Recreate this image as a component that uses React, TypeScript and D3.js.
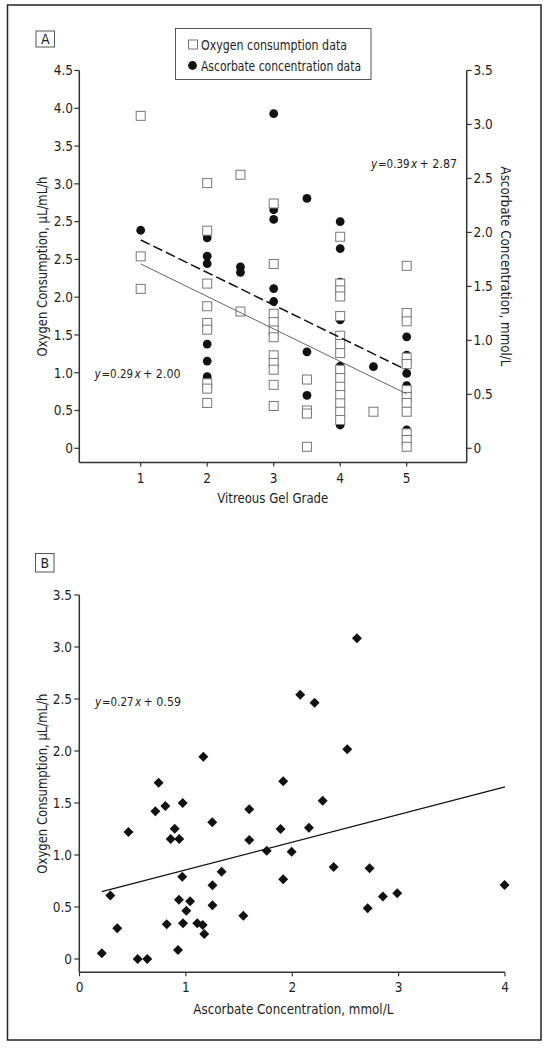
import React from "react";
import * as d3 from "d3";

// ---------- Panel A data (vitreous gel grade) ----------
// Oxygen consumption (left axis, position units of the printed scale)
const oxyGrades: number[] = [1, 2, 2.5, 3, 3.5, 4, 4.5, 5];
const oxyValues: number[][] = [
  [4.40, 2.54, 2.11],
  [3.51, 2.88, 2.18, 1.88, 1.66, 1.57, 0.86, 0.79, 0.60],
  [3.62, 1.81],
  [3.24, 2.44, 1.78, 1.67, 1.56, 1.47, 1.23, 1.13, 1.04, 0.84, 0.56],
  [0.91, 0.50, 0.46, 0.02],
  [2.80, 2.18, 2.09, 2.01, 1.75, 1.49, 1.38, 1.26, 1.04, 0.93, 0.815, 0.705, 0.595, 0.484, 0.374],
  [0.484],
  [2.415, 1.79, 1.68, 1.20, 1.115, 0.77, 0.68, 0.60, 0.484, 0.198, 0.11, 0.02],
];
// Ascorbate concentration (right axis, mmol/L)
const ascGrades: number[] = [1, 2, 2.5, 3, 3.5, 4, 4.5, 5];
const ascValues: number[][] = [
  [2.02],
  [1.95, 1.78, 1.71, 0.966, 0.808, 0.663],
  [1.68, 1.63],
  [3.10, 2.21, 2.12, 1.48, 1.36, 1.20],
  [2.315, 0.894, 0.49],
  [2.10, 1.85, 1.54, 1.19, 0.76, 0.654, 0.355, 0.216],
  [0.756],
  [1.20, 1.033, 0.864, 0.694, 0.58, 0.17],
];
// Regression line end points
const oxyFitX: number[] = [1, 5];
const oxyFitY: number[] = [2.44, 0.72]; // left axis units
const ascFitX: number[] = [1, 5];
const ascFitY: number[] = [1.93, 0.725]; // right axis units

const gradeTicks: number[] = [1, 2, 3, 4, 5];
const leftTicksA: number[] = [0, 0.5, 1, 1.5, 2, 2.5, 3, 3.5, 4, 4.5, 5];
const leftTickLabelsA: string[] = ["0", "0.5", "1.0", "1.5", "2.0", "2.5", "2.5", "3.0", "3.5", "4.0", "4.5"];
const rightTicksA: number[] = [0, 0.5, 1, 1.5, 2, 2.5, 3, 3.5];
const rightTickLabelsA: string[] = ["0", "0.5", "1.0", "1.5", "2.0", "2.5", "3.0", "3.5"];

// ---------- Panel B data ----------
const ascB: number[] = [
  0.21, 0.29, 0.355, 0.46, 0.547, 0.637, 0.713, 0.744, 0.807, 0.82, 0.857, 0.895, 0.926, 0.938,
  0.97, 0.966, 0.935, 0.973, 1.004, 1.04, 1.107, 1.158, 1.173, 1.164, 1.248, 1.25, 1.25, 1.336,
  1.54, 1.596, 1.596, 1.76, 1.915, 1.89, 1.915, 1.994, 2.075, 2.21, 2.608, 2.517, 2.286, 2.157,
  2.389, 2.727, 2.709, 2.852, 2.987, 3.996,
];
const oxyB: number[] = [
  0.055, 0.61, 0.295, 1.22, 0.0, 0.0, 1.42, 1.695, 1.47, 0.333, 1.154, 1.253, 0.087, 1.154,
  1.50, 0.79, 0.57, 0.343, 0.465, 0.555, 0.343, 0.327, 0.24, 1.945, 1.314, 0.708, 0.516, 0.84,
  0.416, 1.44, 1.144, 1.04, 1.71, 1.25, 0.766, 1.032, 2.54, 2.465, 3.084, 2.016, 1.522, 1.263,
  0.885, 0.872, 0.487, 0.6, 0.632, 0.712,
];
const fitBX: number[] = [0.21, 4.0];
const fitBY: number[] = [0.647, 1.655];
const xTicksB: number[] = [0, 1, 2, 3, 4];
const yTicksB: number[] = [0, 0.5, 1, 1.5, 2, 2.5, 3, 3.5];
const yTickLabelsB: string[] = ["0", "0.5", "1.0", "1.5", "2.0", "2.5", "3.0", "3.5"];

const FONT = "'DejaVu Sans Condensed', 'Liberation Sans', Arial, sans-serif";
const TXT = "#1e1e1e";
const AX = "#333";

function Equation({ x, y, slope, intercept }: { x: number; y: number; slope: string; intercept: string }) {
  const fit = { lengthAdjust: "spacingAndGlyphs" as const };
  const common = { y, dy: "0.36em", fontSize: 12.5, fill: TXT };
  return (
    <g>
      <text x={x} {...common} fontStyle="italic" textLength={6.2} {...fit}>y</text>
      <text x={x + 7} {...common} textLength={31.5} {...fit}>{"=" + slope}</text>
      <text x={x + 40} {...common} fontStyle="italic" textLength={6.2} {...fit}>x</text>
      <text x={x + 48.5} {...common} textLength={37.5} {...fit}>{"+ " + intercept}</text>
    </g>
  );
}

export default function App() {
  // Panel A geometry
  const aLeft = 79.3, aRight = 466.7, aTop = 70.5, aBottom = 462.5;
  const xA = d3.scaleLinear().domain([1, 5]).range([140.7, 406.7]);
  const yA = d3.scaleLinear().domain([0, 5]).range([448.3, 70.5]);
  const yAR = d3.scaleLinear().domain([0, 3.5]).range([448.3, 70.5]);

  // Panel B geometry
  const bLeft = 79.3, bBottom = 972.3, bTop = 595;
  const xB = d3.scaleLinear().domain([0, 4]).range([79.5, 505]);
  const yB = d3.scaleLinear().domain([0, 3.5]).range([959, 595]);

  const fs = 14;
  const tfs = 13.5;
  const sq = 9;
  const line = d3.line<[number, number]>();
  const diamond = (r: number) => `M0,${-r}L${r},0L0,${r}L${-r},0Z`;

  const oxyPts: [number, number][] = [];
  oxyGrades.forEach((g, i) => oxyValues[i].forEach((v) => oxyPts.push([g, v])));
  const ascPts: [number, number][] = [];
  ascGrades.forEach((g, i) => ascValues[i].forEach((v) => ascPts.push([g, v])));

  const fit = { lengthAdjust: "spacingAndGlyphs" as const };

  return (
    <svg
      width={545}
      height={1050}
      style={{ position: "absolute", left: 0, top: 0, background: "#fff" }}
      fontFamily={FONT}
    >
      <rect x={0} y={0} width={545} height={1050} fill="#fff" />
      {/* outer frame */}
      <rect x={7.5} y={5} width={533.5} height={1035} fill="none" stroke="#222" strokeWidth={1.5} />

      {/* ================= Panel A ================= */}
      <rect x={36} y={31} width={18.5} height={16} fill="#fff" stroke="#555" strokeWidth={1} />
      <text x={45.3} y={39} dy="0.36em" textAnchor="middle" fontSize={fs} fill={TXT}>A</text>

      {/* legend */}
      <rect x={175.5} y={28.5} width={195.5} height={51} fill="#fff" stroke="#555" strokeWidth={1} />
      <rect x={193 - sq / 2} y={44.5 - sq / 2} width={sq} height={sq} fill="#fff" stroke="#777" strokeWidth={1} />
      <text x={201} y={44.5} dy="0.36em" fontSize={fs} fill={TXT} textLength={146} {...fit}>Oxygen consumption data</text>
      <circle cx={192.5} cy={65.5} r={4.4} fill="#111" />
      <text x={201} y={65.5} dy="0.36em" fontSize={fs} fill={TXT} textLength={160} {...fit}>Ascorbate concentration data</text>

      {/* axes */}
      <line x1={aLeft} y1={aTop} x2={aLeft} y2={aBottom} stroke={AX} strokeWidth={1.5} />
      <line x1={aRight} y1={aTop} x2={aRight} y2={aBottom} stroke={AX} strokeWidth={1.5} />
      <line x1={aLeft} y1={aBottom} x2={aRight} y2={aBottom} stroke={AX} strokeWidth={1.5} />
      {leftTicksA.map((t, i) => (
        <g key={"la" + i}>
          <line x1={aLeft - 5} x2={aLeft} y1={yA(t)} y2={yA(t)} stroke={AX} strokeWidth={1.2} />
          <text x={73} y={yA(t)} dy="0.36em" textAnchor="end" fontSize={tfs} fill={TXT}>{leftTickLabelsA[i]}</text>
        </g>
      ))}
      {rightTicksA.map((t, i) => (
        <g key={"ra" + i}>
          <line x1={aRight} x2={aRight + 5} y1={yAR(t)} y2={yAR(t)} stroke={AX} strokeWidth={1.2} />
          <text x={473.5} y={yAR(t)} dy="0.36em" textAnchor="start" fontSize={tfs} fill={TXT}>{rightTickLabelsA[i]}</text>
        </g>
      ))}
      {gradeTicks.map((t) => (
        <g key={"xa" + t}>
          <line x1={xA(t)} x2={xA(t)} y1={aBottom} y2={aBottom + 4} stroke={AX} strokeWidth={1.2} />
          <text x={xA(t)} y={477.7} dy="0.36em" textAnchor="middle" fontSize={tfs} fill={TXT}>{t}</text>
        </g>
      ))}
      <text x={217.3} y={497.7} dy="0.36em" fontSize={fs} fill={TXT} textLength={111} {...fit}>Vitreous Gel Grade</text>
      <text transform={`translate(41.7,${(aTop + aBottom) / 2 + 90}) rotate(-90)`} dy="0.36em" fontSize={fs} fill={TXT} textLength={180} {...fit}>
        Oxygen Consumption, μL/mL/h
      </text>
      <text transform={`translate(506,${(aTop + aBottom) / 2 - 100}) rotate(90)`} dy="0.36em" fontSize={fs} fill={TXT} textLength={200} {...fit}>
        Ascorbate Concentration, mmol/L
      </text>

      {/* marks */}
      {ascPts.map(([g, v], i) => (
        <circle key={"c" + i} cx={xA(g)} cy={yAR(v)} r={4.4} fill="#111" />
      ))}
      {oxyPts.map(([g, v], i) => (
        <rect key={"s" + i} x={xA(g) - sq / 2} y={yA(v) - sq / 2} width={sq} height={sq} fill="#fff" stroke="#777" strokeWidth={1} />
      ))}
      <path
        d={line(oxyFitX.map((x, i) => [xA(x), yA(oxyFitY[i])]))!}
        fill="none"
        stroke="#666"
        strokeWidth={1}
      />
      <path
        d={line(ascFitX.map((x, i) => [xA(x), yAR(ascFitY[i])]))!}
        fill="none"
        stroke="#111"
        strokeWidth={1.5}
        strokeDasharray="10,4"
      />
      <Equation x={371} y={163} slope="0.39" intercept="2.87" />
      <Equation x={94.5} y={373.3} slope="0.29" intercept="2.00" />

      {/* ================= Panel B ================= */}
      <rect x={35.5} y={553.5} width={18.5} height={18.5} fill="#fff" stroke="#555" strokeWidth={1} />
      <text x={44.7} y={562.7} dy="0.36em" textAnchor="middle" fontSize={fs} fill={TXT}>B</text>

      <line x1={bLeft} y1={bTop} x2={bLeft} y2={bBottom} stroke={AX} strokeWidth={1.5} />
      <line x1={bLeft} y1={bBottom} x2={xB(4)} y2={bBottom} stroke={AX} strokeWidth={1.5} />
      {yTicksB.map((t, i) => (
        <g key={"lb" + i}>
          <line x1={bLeft - 5} x2={bLeft} y1={yB(t)} y2={yB(t)} stroke={AX} strokeWidth={1.2} />
          <text x={72} y={yB(t)} dy="0.36em" textAnchor="end" fontSize={tfs} fill={TXT}>{yTickLabelsB[i]}</text>
        </g>
      ))}
      {xTicksB.map((t) => (
        <g key={"xb" + t}>
          <line x1={xB(t)} x2={xB(t)} y1={bBottom} y2={bBottom + 4} stroke={AX} strokeWidth={1.2} />
          <text x={xB(t)} y={987.3} dy="0.36em" textAnchor="middle" fontSize={tfs} fill={TXT}>{t}</text>
        </g>
      ))}
      <text x={193.3} y={1009.3} dy="0.36em" fontSize={fs} fill={TXT} textLength={200} {...fit}>
        Ascorbate Concentration, mmol/L
      </text>
      <text transform={`translate(41.7,${(bTop + bBottom) / 2 + 90}) rotate(-90)`} dy="0.36em" fontSize={fs} fill={TXT} textLength={180} {...fit}>
        Oxygen Consumption, μL/mL/h
      </text>
      <path
        d={line(fitBX.map((x, i) => [xB(x), yB(fitBY[i])]))!}
        fill="none"
        stroke="#111"
        strokeWidth={1.3}
      />
      {ascB.map((a, i) => (
        <path key={"d" + i} d={diamond(5)} transform={`translate(${xB(a)},${yB(oxyB[i])})`} fill="#111" />
      ))}
      <Equation x={95} y={701.7} slope="0.27" intercept="0.59" />
    </svg>
  );
}
